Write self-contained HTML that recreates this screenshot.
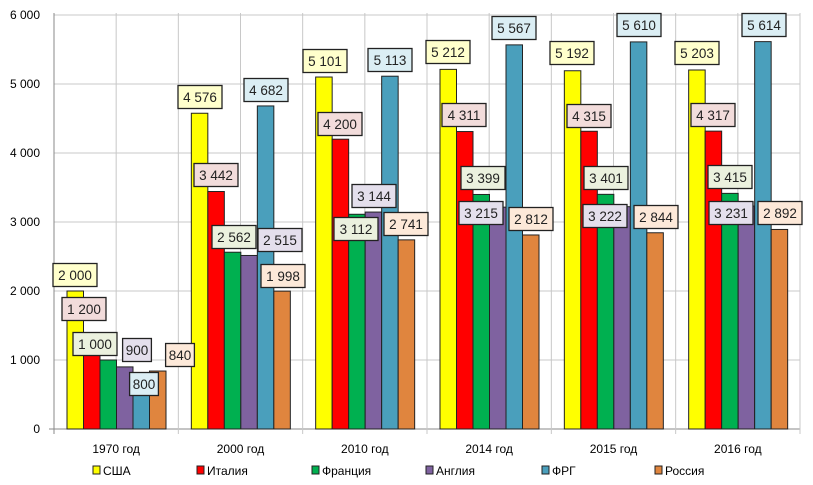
<!DOCTYPE html>
<html><head><meta charset="utf-8"><style>
html,body{margin:0;padding:0;background:#fff;}
svg{display:block;font-family:"Liberation Sans",sans-serif;}
</style></head><body>
<svg id="chart" width="813" height="485" viewBox="0 0 813 485"></svg>
<script>
const categories = ["1970 год","2000 год","2010 год","2014 год","2015 год","2016 год"];
const seriesNames = ["США","Италия","Франция","Англия","ФРГ","Россия"];
const usa    = [2000,4576,5101,5212,5192,5203];
const italy  = [1200,3442,4200,4311,4315,4317];
const france = [1000,2562,3112,3399,3401,3415];
const england= [900,2515,3144,3215,3222,3231];
const frg    = [800,4682,5113,5567,5610,5614];
const russia = [840,1998,2741,2812,2844,2892];
const yTicks = [0,1000,2000,3000,4000,5000,6000];
const yTickLabels = ["0","1 000","2 000","3 000","4 000","5 000","6 000"];

const series = [usa,italy,france,england,frg,russia];
const colors = ["#ffff00","#ff0000","#00b050","#7f62a0","#4a9fbc","#e0853e"];
const tints  = ["#ffffcc","#f2dcdb","#ebf1de","#e4dfec","#dbeef4","#fde9d9"];
// label box centers (layout, per series per category)
const labelPos = [
 [[75,275],[200,97],[325,61],[448,52],[572,53],[697,53]],
 [[84,309],[216,175],[340,124],[464,115],[589,116],[713,115]],
 [[95,344],[234,237],[356,229],[483,178],[606,178],[730,177]],
 [[137,350],[280,240],[374,196],[481,213],[605,216],[731,213]],
 [[144,384],[266,90],[390,60],[514,28],[639,25],[764,25]],
 [[180,355],[283,276],[406,224],[531,219],[656,217],[780,213]]
];
const X0=54, X1=800, Y0=429, YTOP=15, YMAX=6000;
const groupW=(X1-X0)/categories.length, barW=16.5, barOff=13;
const y = v => Y0 - v/YMAX*(Y0-YTOP);
const xBar = (c,s) => X0 + c*groupW + barOff + s*barW;
const NS="http://www.w3.org/2000/svg";
const svg=document.getElementById('chart');
function mk(tag,attrs,parent){const e=document.createElementNS(NS,tag);for(const k in attrs)e.setAttribute(k,attrs[k]);(parent||svg).appendChild(e);return e;}
const fmt=v=>String(v).replace(/\B(?=(\d{3})+(?!\d))/g,' ');

// grid
for(let i=0;i<yTicks.length;i++){
  const l=mk('line',{x1:X0,x2:X1,y1:y(yTicks[i]),y2:y(yTicks[i]),stroke:i==0?'#888':'#c8c8c8','stroke-width':1});
  
  
  const t=mk('text',{x:40,y:y(yTicks[i])+4,'text-anchor':'end','font-size':12,fill:'#000'});
  t.textContent=yTickLabels[i];
  
  
}
for(let i=0;i<=categories.length*2;i++){
  const x=X0+i*groupW/2;
  const l=mk('line',{x1:x,x2:x,y1:YTOP-2,y2:i%2==0?Y0+5:Y0,stroke:i==0?'#888':'#c8c8c8','stroke-width':1});
  
  
}
mk('line',{x1:X0-5,x2:X0,y1:Y0,y2:Y0,stroke:'#888'});
// bars
for(let s=0;s<series.length;s++){
  for(let c=0;c<categories.length;c++){
    const v=series[s][c];
    const r=mk('rect',{x:xBar(c,s),y:y(v),width:barW,height:Y0-y(v),fill:colors[s],stroke:'#222','stroke-width':1});
    
    
  }
}
// labels
for(let s=0;s<series.length;s++){
  for(let c=0;c<categories.length;c++){
    const [cx,cy]=labelPos[s][c];
    const txt=fmt(series[s][c]);
    const w=txt.length*7.6+6;
    const g=mk('g',{});
    
    
    mk('rect',{x:cx-w/2,y:cy-11.5,width:w,height:23,fill:tints[s],stroke:'#222','stroke-width':1.3},g);
    const t=mk('text',{x:cx,y:cy+5,'text-anchor':'middle','font-size':13.5,fill:'#222'},g);
    t.textContent=txt;
  }
}
// category labels
for(let c=0;c<categories.length;c++){
  const t=mk('text',{x:X0+c*groupW+groupW/2,y:453,'text-anchor':'middle','font-size':12,fill:'#000'});
  t.textContent=categories[c];
  
  
}
// legend
const legX=[93,197,312,426,542,655];
for(let s=0;s<seriesNames.length;s++){
  const g=mk('g',{});
  
  
  mk('rect',{x:legX[s],y:466,width:7,height:8,fill:colors[s],stroke:'#222','stroke-width':1},g);
  const t=mk('text',{x:legX[s]+10,y:475,'font-size':12,fill:'#000'},g);
  t.textContent=seriesNames[s];
}
</script>
</body></html>
